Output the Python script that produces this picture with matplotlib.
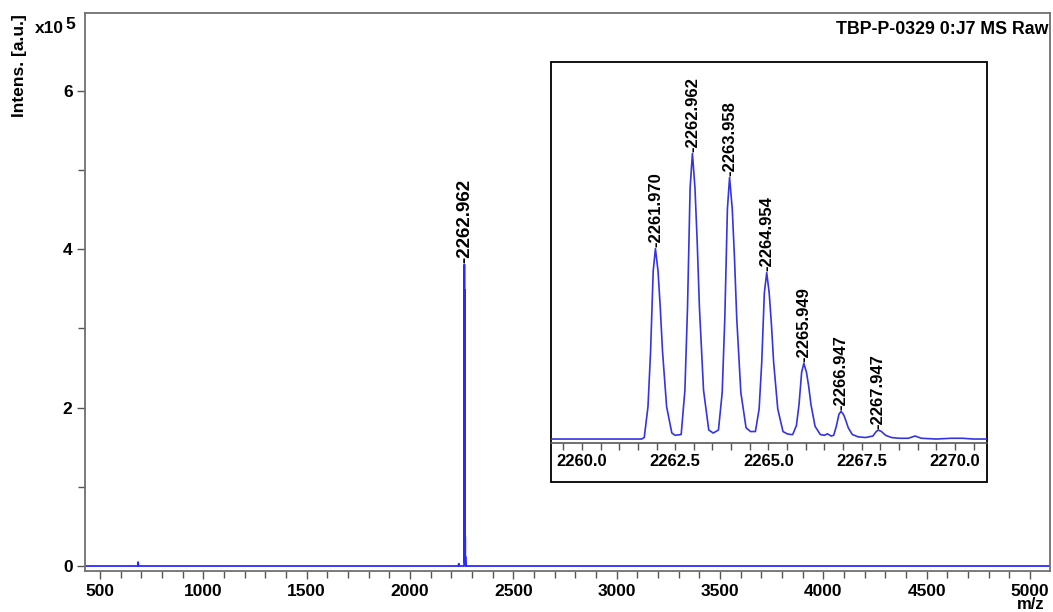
import matplotlib
matplotlib.use("Agg")
import matplotlib.pyplot as plt
from matplotlib.patches import Rectangle
from matplotlib.ticker import MultipleLocator

plt.rcParams['font.family'] = ['Liberation Sans', 'DejaVu Sans']
plt.rcParams['font.weight'] = 'bold'

# isotope cluster trace, m/z vs intensity (x1e5)
mz_cluster = [2259.17, 2261.60,
              2261.67, 2261.77, 2261.84, 2261.91, 2261.970, 2262.04, 2262.10, 2262.16, 2262.27, 2262.41, 2262.50,
              2262.66, 2262.76, 2262.83, 2262.90, 2262.962, 2263.03, 2263.09, 2263.15, 2263.26, 2263.40, 2263.52,
              2263.66, 2263.76, 2263.83, 2263.90, 2263.958, 2264.03, 2264.09, 2264.15, 2264.26, 2264.40, 2264.52,
              2264.65, 2264.75, 2264.82, 2264.89, 2264.954, 2265.02, 2265.08, 2265.14, 2265.25, 2265.39, 2265.50,
              2265.60,
              2265.65, 2265.75, 2265.82, 2265.89, 2265.949, 2266.02, 2266.08, 2266.14, 2266.25, 2266.39, 2266.50,
              2266.58, 2266.68,
              2266.75, 2266.82, 2266.89, 2266.947, 2267.02, 2267.08, 2267.14, 2267.25, 2267.40, 2267.60,
              2267.80, 2267.89, 2267.947, 2268.03, 2268.14, 2268.30, 2268.50,
              2268.75, 2268.93, 2269.10, 2269.50, 2269.90, 2270.20, 2270.50, 2270.86]
int_cluster = [0.0, 0.0,
               0.02, 0.43, 1.17, 2.24, 2.54, 2.24, 1.75, 1.17, 0.43, 0.08, 0.05,
               0.06, 0.65, 1.75, 3.35, 3.81, 3.35, 2.63, 1.75, 0.65, 0.12, 0.08,
               0.12, 0.62, 1.61, 3.07, 3.49, 3.07, 2.41, 1.61, 0.62, 0.15, 0.10,
               0.10, 0.40, 1.02, 1.95, 2.22, 1.95, 1.53, 1.02, 0.40, 0.10, 0.07,
               0.06,
               0.06, 0.18, 0.46, 0.89, 1.01, 0.89, 0.70, 0.46, 0.17, 0.06, 0.05,
               0.07, 0.04,
               0.05, 0.17, 0.33, 0.37, 0.32, 0.24, 0.15, 0.06, 0.03, 0.02,
               0.04, 0.10, 0.12, 0.10, 0.05, 0.02, 0.01,
               0.01, 0.04, 0.01, 0.0, 0.01, 0.01, 0.0, 0.0]

# rest of the full-range trace
mz_low = [427, 682, 684, 686, 2233, 2236, 2239]
int_low = [0.0, 0.0, 0.05, 0.0, 0.0, 0.03, 0.0]
mz_high = [5097]
int_high = [0.0]

peak_mz = [2261.970, 2262.962, 2263.958, 2264.954, 2265.949, 2266.947, 2267.947]
peak_int = [2.54, 3.81, 3.49, 2.22, 1.01, 0.37, 0.12]
main_label = 2262.962

W, H = 1053, 612
fig = plt.figure(figsize=(W / 100, H / 100), dpi=100)
ax = fig.add_axes([85 / W, 1 - 571 / H, 965 / W, 558 / H])

mz_all = mz_low + mz_cluster + mz_high
int_all = int_low + int_cluster + int_high
ax.plot(mz_all, int_all, color='#2a2aff', lw=1.3)
ax.annotate('-' + format(main_label, '.3f'), (main_label, max(peak_int)), xytext=(0, 1),
            textcoords='offset points', rotation=90, ha='center', va='bottom', fontsize=13.5,
            fontweight='bold')

ax.set_xlim(427, 5097)
ax.set_ylim(-0.063, 6.985)
ax.xaxis.set_major_locator(MultipleLocator(500))
ax.xaxis.set_minor_locator(MultipleLocator(100))
ax.yaxis.set_major_locator(MultipleLocator(2))
ax.yaxis.set_minor_locator(MultipleLocator(1))
ax.tick_params(which='major', length=6, width=1, color='#555555', labelsize=12.5, pad=3)
ax.tick_params(which='minor', length=5, width=1, color='#555555')
for sp in ax.spines.values():
    sp.set_color('#707070')
    sp.set_linewidth(1.3)

fig.text(20 / W, 1 - 66 / H, 'Intens. [a.u.]', rotation=90, ha='center', va='center',
         fontsize=12.5, fontweight='bold')
fig.text(35 / W, 1 - 33 / H, 'x10', ha='left', va='baseline', fontsize=12.5, fontweight='bold')
fig.text(65 / W, 1 - 29 / H, '5', ha='left', va='baseline', fontsize=12.5, fontweight='bold')
fig.text(1048 / W, 1 - 29 / H, 'TBP-P-0329 0:J7 MS Raw', ha='right', va='center',
         fontsize=12.8, fontweight='bold')
fig.text(1031 / W, 1 - 597 / H, 'm/z', ha='center', va='top', fontsize=12,
         fontweight='bold')

# inset
fig.patches.append(Rectangle((551 / W, 1 - 482 / H), 436 / W, 420 / H, transform=fig.transFigure,
                             fill=True, facecolor='white', edgecolor='black', lw=1.3, zorder=3))
axi = fig.add_axes([551 / W, 1 - 443 / H, 436 / W, 381 / H], zorder=4)
axi.patch.set_alpha(0)
axi.plot(mz_cluster, int_cluster, color='#3434e0', lw=1.2)
for m, v in zip(peak_mz, peak_int):
    axi.annotate('-' + format(m, '.3f'), (m, v), xytext=(0, 1), textcoords='offset points',
                 rotation=90, ha='center', va='bottom', fontsize=12, fontweight='bold')
axi.set_xlim(2259.17, 2270.86)
axi.set_ylim(-0.053, 5.03)
axi.xaxis.set_major_locator(MultipleLocator(2.5))
axi.xaxis.set_minor_locator(MultipleLocator(0.5))
axi.xaxis.set_major_formatter(plt.FormatStrFormatter('%.1f'))
axi.set_yticks([])
for s in ['top', 'left', 'right']:
    axi.spines[s].set_visible(False)
axi.spines['bottom'].set_color('#555555')
axi.spines['bottom'].set_linewidth(1.2)
axi.tick_params(which='major', length=5, width=1, color='#555555', labelsize=12, pad=3)
axi.tick_params(which='minor', length=5, width=1, color='#555555')

fig.savefig('out.png', dpi=100)
